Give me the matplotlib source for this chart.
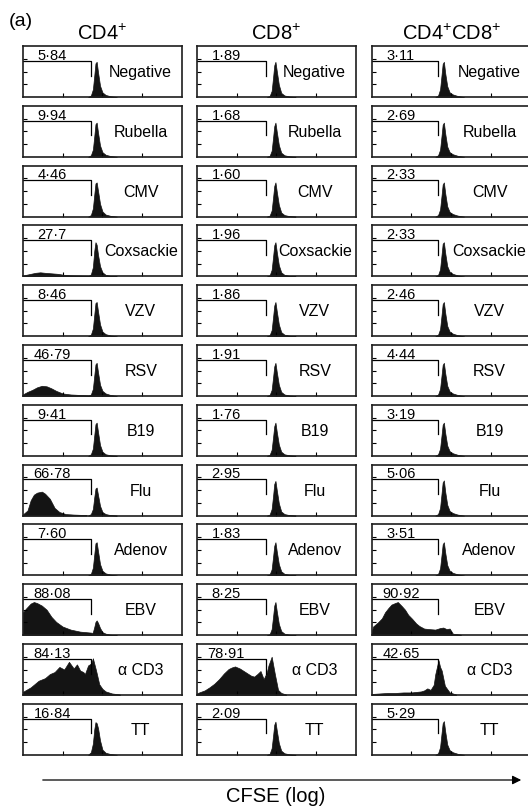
import matplotlib.pyplot as plt

plt.rcParams['font.family'] = ['Liberation Sans', 'DejaVu Sans']
plt.rcParams['mathtext.fontset'] = 'custom'
plt.rcParams['mathtext.rm'] = 'Liberation Sans'
plt.rcParams['mathtext.default'] = 'regular'

# column headers and row labels
subsets = ['CD4$^{+}$', 'CD8$^{+}$', 'CD4$^{+}$CD8$^{+}$']
antigens = ['Negative', 'Rubella', 'CMV', 'Coxsackie', 'VZV', 'RSV', 'B19',
            'Flu', 'Adenov', 'EBV', 'α CD3', 'TT']

# % divided cells inside the gate
pct_cd4 = ['5.84', '9.94', '4.46', '27.7', '8.46', '46.79', '9.41', '66.78',
           '7.60', '88.08', '84.13', '16.84']
pct_cd8 = ['1.89', '1.68', '1.60', '1.96', '1.86', '1.91', '1.76', '2.95',
           '1.83', '8.25', '78.91', '2.09']
pct_dp = ['3.11', '2.69', '2.33', '2.33', '2.46', '4.44', '3.19', '5.06',
          '3.51', '90.92', '42.65', '5.29']

# gate edge (log CFSE, decades)
gate_x = [1.72, 1.73, 1.66]

# undivided peak, x positions per column (log CFSE)
peak_x_cd4 = [1.64, 1.71, 1.76, 1.795, 1.825, 1.855, 1.89, 1.94, 2.00, 2.08, 2.20, 2.36]
peak_x_cd8 = [1.76, 1.83, 1.88, 1.915, 1.945, 1.975, 2.01, 2.06, 2.12, 2.20, 2.32, 2.48]
peak_x_dp = [1.60, 1.67, 1.72, 1.755, 1.785, 1.815, 1.85, 1.90, 1.96, 2.04, 2.16, 2.32]

# peak heights (fraction of panel height), one row per antigen; None = no separate peak
peaks_cd4 = [
    [0, .03, .15, .42, .66, .69, .48, .22, .09, .04, .015, 0],
    [0, .03, .14, .40, .64, .67, .47, .22, .09, .04, .015, 0],
    [0, .03, .16, .43, .65, .67, .50, .25, .10, .04, .015, 0],
    [0, .04, .18, .50, .67, .62, .42, .20, .08, .03, .01, 0],
    [0, .03, .15, .42, .65, .67, .48, .23, .09, .04, .015, 0],
    [0, .03, .14, .40, .62, .65, .46, .22, .10, .05, .02, 0],
    [0, .03, .14, .40, .62, .65, .46, .21, .08, .03, .01, 0],
    [0, .03, .13, .36, .53, .55, .40, .19, .07, .03, .01, 0],
    [0, .03, .15, .41, .63, .65, .47, .22, .09, .04, .015, 0],
    [0, .02, .06, .16, .26, .29, .24, .14, .06, .03, .01, 0],
    None,
    [0, .05, .22, .50, .64, .62, .52, .28, .10, .04, .015, 0],
]
peaks_cd8 = [
    [0, .02, .12, .38, .62, .69, .50, .24, .08, .03, .01, 0],
    [0, .02, .12, .37, .60, .67, .48, .23, .08, .03, .01, 0],
    [0, .02, .12, .37, .60, .67, .48, .23, .08, .03, .01, 0],
    [0, .02, .13, .38, .61, .67, .47, .22, .08, .03, .01, 0],
    [0, .02, .12, .37, .60, .67, .48, .23, .08, .03, .01, 0],
    [0, .02, .12, .36, .58, .65, .46, .22, .08, .03, .01, 0],
    [0, .02, .12, .36, .58, .65, .46, .22, .08, .03, .01, 0],
    [0, .02, .13, .38, .62, .68, .49, .24, .08, .03, .01, 0],
    [0, .02, .12, .36, .58, .65, .46, .22, .08, .03, .01, 0],
    [0, .02, .12, .36, .58, .65, .46, .22, .08, .03, .01, 0],
    None,
    [0, .02, .13, .37, .59, .65, .47, .23, .08, .03, .01, 0],
]
peaks_dp = [
    [0, .03, .15, .42, .65, .69, .46, .21, .09, .05, .02, 0],
    [0, .03, .14, .40, .63, .67, .45, .20, .09, .05, .02, 0],
    [0, .03, .14, .40, .63, .67, .45, .20, .09, .05, .02, 0],
    [0, .03, .14, .41, .64, .67, .45, .20, .09, .05, .02, 0],
    [0, .03, .14, .40, .63, .67, .45, .20, .09, .05, .02, 0],
    [0, .03, .14, .39, .61, .65, .44, .20, .09, .05, .02, 0],
    [0, .03, .14, .39, .61, .65, .44, .20, .09, .05, .02, 0],
    [0, .03, .15, .42, .65, .69, .46, .21, .09, .05, .02, 0],
    [0, .03, .14, .39, .61, .65, .44, .20, .09, .05, .02, 0],
    None,
    None,
    [0, .03, .15, .41, .62, .66, .45, .20, .09, .05, .02, 0],
]

# divided populations: (column, row) -> (log CFSE, height)
divided = {
    (0, 3): ([0, .08, .2, .32, .44, .56, .72, .88, 1.04, 1.2, 1.44, 1.68],
             [.01, .03, .05, .07, .08, .07, .06, .05, .03, .02, .015, .01]),
    (0, 5): ([0, .12, .24, .36, .48, .6, .72, .84, 1.0, 1.2, 1.44, 1.68],
             [.03, .08, .12, .17, .20, .19, .15, .10, .05, .03, .02, .01]),
    (0, 7): ([0, .12, .2, .28, .36, .48, .56, .68, .8, .92, 1.08, 1.28, 1.6],
             [.02, .10, .30, .41, .45, .47, .43, .33, .15, .07, .03, .02, .01]),
    (0, 9): ([0, .08, .2, .28, .36, .48, .6, .72, .84, 1.0, 1.2, 1.44, 1.72],
             [.44, .52, .62, .65, .63, .58, .50, .36, .26, .17, .11, .07, .05]),
    (0, 10): ([0, .2, .4, .56, .68, .8, .92, 1.04, 1.16, 1.28, 1.36, 1.44, 1.52,
               1.56, 1.64, 1.72, 1.76, 1.84, 1.92, 2.0, 2.08, 2.24, 2.44],
              [.06, .15, .28, .33, .41, .45, .55, .50, .65, .52, .60, .48, .45,
               .41, .58, .62, .72, .48, .21, .12, .07, .03, .01]),
    (1, 10): ([0, .06, .2, .32, .44, .56, .68, .8, .88, .96, 1.08, 1.16, 1.28,
               1.36, 1.44, 1.52, 1.6, 1.68, 1.76, 1.8, 1.88, 1.96, 2.04, 2.12, 2.24],
              [.03, .05, .09, .15, .22, .31, .42, .51, .54, .56, .52, .48, .42,
               .38, .36, .41, .47, .31, .45, .58, .75, .41, .10, .04, .01]),
    (2, 9): ([0, .04, .16, .26, .34, .42, .5, .59, .66, .76, .84, .92, 1.02,
              1.12, 1.2, 1.32, 1.44, 1.6, 1.72, 1.8, 1.88, 1.96, 2.04, 2.24],
             [.05, .17, .25, .33, .45, .53, .60, .63, .65, .57, .50, .40, .32,
              .23, .18, .13, .12, .11, .14, .15, .12, .13, .03, .01]),
    (2, 10): ([0, .2, .4, .6, .8, 1.0, 1.12, 1.24, 1.32, 1.4, 1.48, 1.56, 1.6,
               1.68, 1.72, 1.76, 1.84, 1.96, 2.12],
              [.02, .03, .04, .04, .05, .05, .06, .07, .09, .13, .10, .20, .41,
               .68, .55, .48, .18, .05, .01]),
}

pcts = [pct_cd4, pct_cd8, pct_dp]
peak_xs = [peak_x_cd4, peak_x_cd8, peak_x_dp]
peaks = [peaks_cd4, peaks_cd8, peaks_dp]

W, H = 528, 807
fig = plt.figure(figsize=(W / 100, H / 100), dpi=100)

col_left = [22.7, 196.7, 371.5]
pw, ph = 159.5, 51
row_top0, row_step = 46, 59.8
ink = '#141414'

for c in range(3):
    for r in range(12):
        top = row_top0 + r * row_step
        ax = fig.add_axes([col_left[c] / W, 1 - (top + ph) / H, pw / W, ph / H])
        ax.set_xlim(0, 4)
        ax.set_ylim(0, 1)
        if peaks[c][r] is not None:
            ax.fill_between(peak_xs[c], peaks[c][r], color=ink, lw=0.5)
        if (c, r) in divided:
            xs, ys = divided[(c, r)]
            ax.fill_between(xs, ys, color=ink, lw=0.5)
        g = gate_x[c]
        ax.plot([0, g, g], [0.71, 0.71, 0.42], color='k', lw=0.9)
        ax.text(0.185, 0.73, pcts[c][r].replace('.', '·'), transform=ax.transAxes,
                ha='center', va='baseline', fontsize=10.5)
        ax.text(0.74, 0.48, antigens[r], transform=ax.transAxes,
                ha='center', va='center', fontsize=11.5)
        ax.set_xticks([1, 2, 3])
        ax.set_yticks([0.25, 0.5, 0.75])
        ax.tick_params(direction='in', length=3, width=0.8,
                       labelbottom=False, labelleft=False)
        for s in ax.spines.values():
            s.set_linewidth(1.2)
            s.set_color('#1e1e1e')
    fig.text((col_left[c] + pw / 2) / W, 1 - 40 / H, subsets[c],
             ha='center', va='baseline', fontsize=14.5)

fig.text(9 / W, 1 - 22 / H, '(a)', ha='left', va='center', fontsize=14)

fig.add_artist(plt.matplotlib.patches.FancyArrowPatch(
    (40 / W, 1 - 780 / H), (524 / W, 1 - 780 / H), transform=fig.transFigure,
    arrowstyle='-|>', mutation_scale=13, color='k', lw=0.9))
fig.text(276 / W, 1 - 797 / H, 'CFSE (log)', ha='center', va='center', fontsize=14.5)

fig.savefig('out.png', dpi=100)
